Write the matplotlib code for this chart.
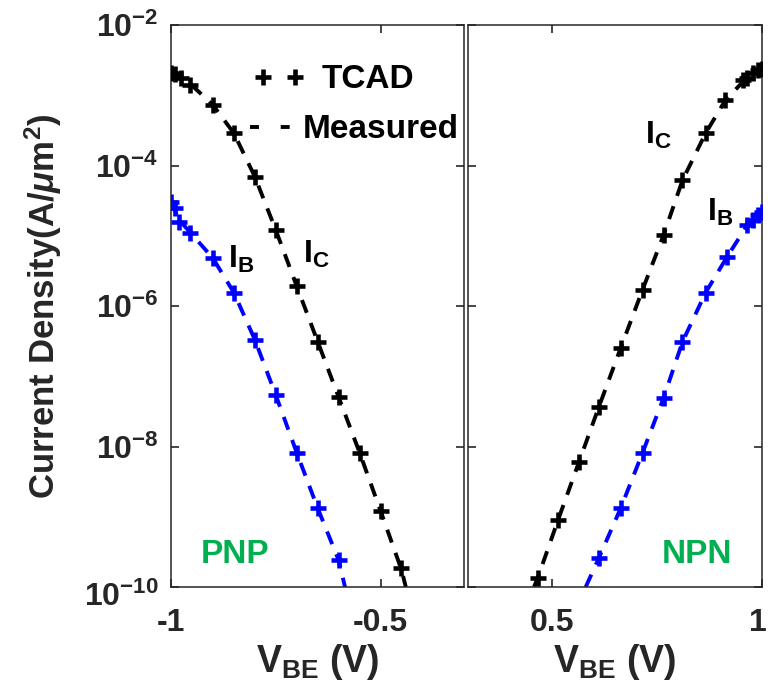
import numpy as np
import matplotlib
matplotlib.use('Agg')
import matplotlib.pyplot as plt
import matplotlib.transforms as mtrans
from matplotlib.lines import Line2D

plt.rcParams['font.family'] = 'Liberation Sans'
plt.rcParams['font.weight'] = 'bold'
plt.rcParams['mathtext.fontset'] = 'custom'
plt.rcParams['mathtext.rm'] = 'Liberation Sans:bold'
plt.rcParams['mathtext.bf'] = 'Liberation Sans:bold'
plt.rcParams['mathtext.it'] = 'Liberation Sans:italic:bold'
plt.rcParams['mathtext.default'] = 'bf'

# PNP (left panel) - TCAD points
pnp_v = [-1.0, -0.99, -0.975, -0.955, -0.90, -0.85, -0.80, -0.75, -0.70, -0.65, -0.60, -0.55, -0.50, -0.452]
pnp_ic_log = [-2.68, -2.70, -2.75, -2.85, -3.14, -3.54, -4.16, -4.92, -5.72, -6.51, -7.30, -8.09, -8.92, -9.73]
pnp_ib_v = [-1.0, -0.99, -0.98, -0.955, -0.90, -0.85, -0.80, -0.75, -0.70, -0.65, -0.60]
pnp_ib_log = [-4.52, -4.60, -4.80, -4.96, -5.32, -5.81, -6.48, -7.27, -8.09, -8.88, -9.62]
# PNP measured
pnp_ic_meas_v = [-1.0, -0.975, -0.95, -0.90, -0.85, -0.80, -0.75, -0.70, -0.65, -0.60, -0.55, -0.50, -0.45, -0.44]
pnp_ic_meas_log = [-2.66, -2.74, -2.86, -3.14, -3.54, -4.16, -4.92, -5.72, -6.51, -7.30, -8.09, -8.92, -9.76, -10.0]
pnp_ib_meas_v = [-1.0, -0.98, -0.95, -0.90, -0.85, -0.80, -0.75, -0.70, -0.65, -0.60, -0.585]
pnp_ib_meas_log = [-4.52, -4.78, -4.98, -5.32, -5.81, -6.48, -7.27, -8.09, -8.88, -9.62, -10.0]

# NPN (right panel) - TCAD points
npn_v = [0.467, 0.515, 0.565, 0.612, 0.664, 0.716, 0.766, 0.811, 0.866, 0.913, 0.956, 0.965, 0.979, 0.991, 1.0]
npn_ic_log = [-9.87, -9.05, -8.22, -7.44, -6.60, -5.77, -4.99, -4.21, -3.54, -3.07, -2.78, -2.75, -2.68, -2.64, -2.62]
npn_ib_v = [0.612, 0.664, 0.716, 0.766, 0.811, 0.866, 0.917, 0.965, 0.979, 0.991, 1.0]
npn_ib_log = [-9.59, -8.88, -8.09, -7.31, -6.51, -5.81, -5.30, -4.85, -4.78, -4.70, -4.66]
# NPN measured
npn_ic_meas_v = [0.458, 0.467, 0.515, 0.565, 0.612, 0.664, 0.716, 0.766, 0.811, 0.866, 0.913, 0.956, 1.0]
npn_ic_meas_log = [-10.0, -9.87, -9.05, -8.22, -7.44, -6.60, -5.77, -4.99, -4.21, -3.54, -3.07, -2.80, -2.60]
npn_ib_meas_v = [0.581, 0.612, 0.664, 0.716, 0.766, 0.811, 0.866, 0.917, 0.965, 1.0]
npn_ib_meas_log = [-10.0, -9.59, -8.88, -8.09, -7.31, -6.51, -5.81, -5.30, -4.85, -4.64]

fig = plt.figure(figsize=(7.68, 7.0), dpi=100)
ax1 = fig.add_axes([171/768, 1-587/700, 293.5/768, 562/700])
ax2 = fig.add_axes([467.5/768, 1-587/700, 294.5/768, 562/700])

dash = (3.5, 2.8)
lw = 2.8
ms = 12
mew = 3.3

def tcad(ax, v, lg, c):
    ax.plot(v, 10**np.array(lg), '+', color=c, ms=ms, mew=mew, zorder=3)

def meas(ax, v, lg, c):
    ax.plot(v, 10**np.array(lg), '--', color=c, lw=lw, dashes=dash, zorder=2)

meas(ax1, pnp_ic_meas_v, pnp_ic_meas_log, 'k')
meas(ax1, pnp_ib_meas_v, pnp_ib_meas_log, 'b')
tcad(ax1, pnp_v, pnp_ic_log, 'k')
tcad(ax1, pnp_ib_v, pnp_ib_log, 'b')
meas(ax2, npn_ic_meas_v, npn_ic_meas_log, 'k')
meas(ax2, npn_ib_meas_v, npn_ib_meas_log, 'b')
tcad(ax2, npn_v, npn_ic_log, 'k')
tcad(ax2, npn_ib_v, npn_ib_log, 'b')

gray = '#262626'
for ax in (ax1, ax2):
    ax.set_yscale('log')
    ax.set_ylim(1e-10, 1e-2)
    ax.set_yticks([1e-10, 1e-8, 1e-6, 1e-4, 1e-2])
    ax.yaxis.set_minor_locator(matplotlib.ticker.NullLocator())
    ax.tick_params(direction='in', length=6, width=1.2, top=True, right=True,
                   labelsize=23, colors=gray, pad=15)
    for s in ax.spines.values():
        s.set_linewidth(1.1)
        s.set_color(gray)
    ax.set_xlabel('V$_{BE}$ (V)', fontsize=27, fontweight='bold', color=gray)
    ax.xaxis.set_label_coords(0.5, -0.098)

ax1.set_xlim(-1, -0.3)
ax1.set_xticks([-1, -0.5])
ax1.set_xticklabels(['-1', '-0.5'])
ax1.tick_params(axis='y', pad=9)
ax2.set_xlim(0.3, 1)
ax2.set_xticks([0.5, 1])
ax2.set_xticklabels(['0.5', '1'])
ax2.tick_params(axis='y', labelleft=False)

ax1.set_ylabel(r'Current Density(A/$\mathit{\mu}$m$^{2}$)', fontsize=25,
               fontweight='bold', color=gray)
ax1.yaxis.set_label_coords(-0.365, 0.5)

# curve labels
ax1.text(0.194, 0.582, 'I$_{B}$', transform=ax1.transAxes, fontsize=23, va='center')
ax1.text(0.449, 0.591, 'I$_{C}$', transform=ax1.transAxes, fontsize=23, va='center')
ax2.text(0.603, 0.804, 'I$_{C}$', transform=ax2.transAxes, fontsize=23, va='center')
ax2.text(0.813, 0.667, 'I$_{B}$', transform=ax2.transAxes, fontsize=23, va='center')
ax1.text(0.218, 0.057, 'PNP', transform=ax1.transAxes, fontsize=24, color='#00B050',
         ha='center', va='center')
ax2.text(0.78, 0.057, 'NPN', transform=ax2.transAxes, fontsize=24, color='#00B050',
         ha='center', va='center')

# legends
h1 = Line2D([], [], ls='none', marker='+', color='k', ms=ms, mew=mew)
fig.legend([h1], ['TCAD'], loc='center left', bbox_to_anchor=(253/768, 1-80/700),
           frameon=False, numpoints=2, handlelength=1.56, handletextpad=0.51,
           borderpad=0, borderaxespad=0, prop={'size': 24, 'weight': 'bold'})
h2 = Line2D([], [], ls='--', color='k', lw=lw, dashes=(2.3, 5.6))
fig.legend([h2], ['Measured'], loc='center left', bbox_to_anchor=(250/768, 1-130/700),
           frameon=False, numpoints=1, handlelength=1.2, handletextpad=0.39,
           borderpad=0, borderaxespad=0, prop={'size': 24, 'weight': 'bold'})

# keep the "1" tick label inside the canvas
lbl = ax2.get_xticklabels()[1]
lbl.set_transform(lbl.get_transform() + mtrans.ScaledTranslation(-4/100, 0, fig.dpi_scale_trans))
# bottom y label sits a little lower, as in the original
lbl = ax1.get_yticklabels()[0]
lbl.set_transform(lbl.get_transform() + mtrans.ScaledTranslation(0, -7/100, fig.dpi_scale_trans))

fig.savefig('out.png', dpi=100)
